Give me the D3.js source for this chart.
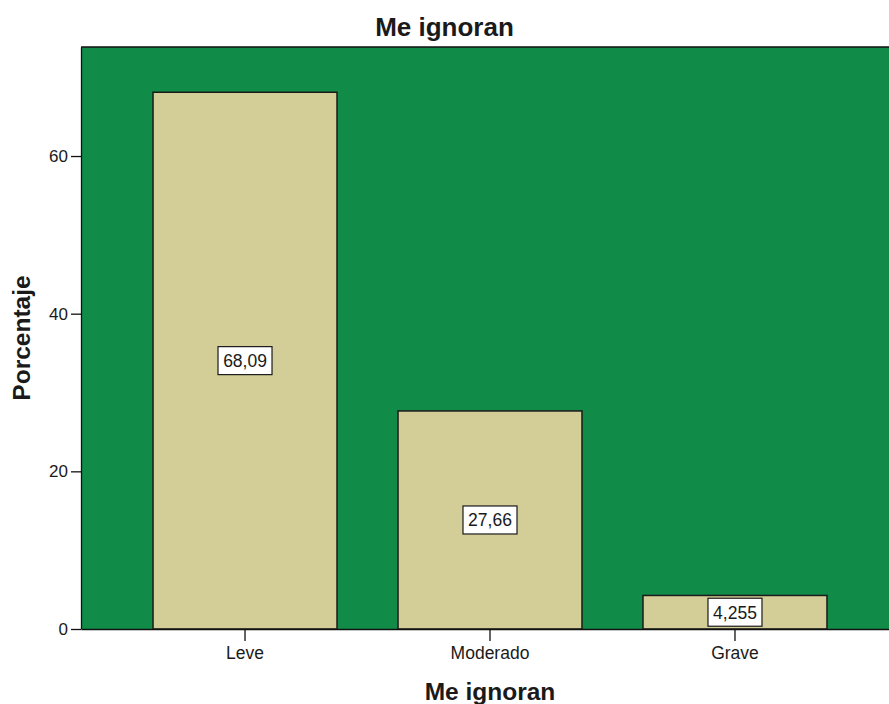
<!DOCTYPE html>
<html>
<head>
<meta charset="utf-8">
<script src="https://cdn.jsdelivr.net/npm/d3@7"></script>
<style>
    body { margin: 0; background: #fff; }
    #d3_wrapper { width: 889px; height: 704px; overflow: hidden; }
    text { font-family: "Liberation Sans", Arial, sans-serif; fill: #1a1a1a; }
    .domains path { stroke: #111; stroke-width: 1.3px; }
    .domains line { stroke: #111; stroke-width: 1.3px; }
</style>
</head>
<body>
<div id="d3_wrapper"></div>
<script>
const categorias = ["Leve", "Moderado", "Grave"]
const porcentajes = [68.09, 27.66, 4.255]
const etiquetas = ["68,09", "27,66", "4,255"]
const ticksY = [0, 20, 40, 60]

function drawGraphic() {
    const wrapper = d3.select("#d3_wrapper")

    // Tamaño total y márgenes del área del gráfico
    const widthWrapper = 889,
        heightWrapper = 704,
        margin = { top: 47, right: -10, bottom: 75, left: 81 },
        width = widthWrapper - margin.left - margin.right,
        height = heightWrapper - margin.top - margin.bottom

    const svg = wrapper.append("svg")
        .attr("width", widthWrapper)
        .attr("height", heightWrapper)

    const graphics = svg.append("g")
        .attr("transform", "translate(" + margin.left + "," + margin.top + ")")

    // Escalas
    const x = d3.scaleBand()
        .domain(categorias)
        .range([0, width])
        .paddingInner(0.249)
        .paddingOuter(0.294)

    const y = d3.scaleLinear()
        .domain([0, 73.83])
        .range([height, 0])

    // Fondo verde del área del gráfico
    graphics.append("rect")
        .attr("width", width)
        .attr("height", height)
        .attr("fill", "#118c48")

    // Barras
    graphics.selectAll(".bar")
        .data(porcentajes)
        .join("rect")
        .attr("class", "bar")
        .attr("x", (d, i) => x(categorias[i]))
        .attr("y", d => y(d))
        .attr("width", x.bandwidth())
        .attr("height", d => height - y(d))
        .attr("fill", "#d3ce97")
        .attr("stroke", "#1a1a1a")
        .attr("stroke-width", 1.5)

    // Etiquetas con recuadro blanco en el centro de cada barra
    const labels = graphics.selectAll(".label")
        .data(porcentajes)
        .join("g")
        .attr("class", "label")
        .attr("transform", (d, i) => "translate(" + (x(categorias[i]) + x.bandwidth() / 2) + "," + y(d / 2) + ")")

    labels.append("rect")
        .attr("x", -27)
        .attr("y", -14)
        .attr("width", 54)
        .attr("height", 28)
        .attr("fill", "#fff")
        .attr("stroke", "#1a1a1a")
        .attr("stroke-width", 1.2)

    labels.append("text")
        .attr("text-anchor", "middle")
        .attr("dy", "0.36em")
        .style("font-size", "17.5px")
        .text((d, i) => etiquetas[i])

    // Eje X
    graphics.append("g")
        .attr("class", "domains")
        .attr("transform", "translate(0," + height + ")")
        .call(d3.axisBottom(x).tickSize(12).tickSizeOuter(0).tickPadding(6))
        .call(g => g.selectAll("text").style("font-size", "17.5px").attr("fill", "#1a1a1a"))

    // Eje Y
    graphics.append("g")
        .attr("class", "domains")
        .call(d3.axisLeft(y).tickValues(ticksY).tickSize(10).tickSizeOuter(0).tickPadding(3))
        .call(g => g.selectAll("text").style("font-size", "17px").attr("fill", "#1a1a1a"))

    // Borde superior del área
    graphics.append("line")
        .attr("x1", 0)
        .attr("x2", width)
        .attr("y1", 0)
        .attr("y2", 0)
        .attr("stroke", "#111")
        .attr("stroke-width", 1.6)

    // Títulos
    svg.append("text")
        .attr("x", widthWrapper / 2)
        .attr("y", 36)
        .attr("text-anchor", "middle")
        .style("font-size", "26px")
        .style("font-weight", "bold")
        .text("Me ignoran")

    svg.append("text")
        .attr("x", margin.left + width / 2)
        .attr("y", 700)
        .attr("text-anchor", "middle")
        .style("font-size", "24.5px")
        .style("font-weight", "bold")
        .text("Me ignoran")

    svg.append("text")
        .attr("transform", "translate(30," + (margin.top + height / 2) + ") rotate(-90)")
        .attr("text-anchor", "middle")
        .style("font-size", "24.5px")
        .style("font-weight", "bold")
        .text("Porcentaje")
}

window.addEventListener("load", drawGraphic)
</script>
</body>
</html>
